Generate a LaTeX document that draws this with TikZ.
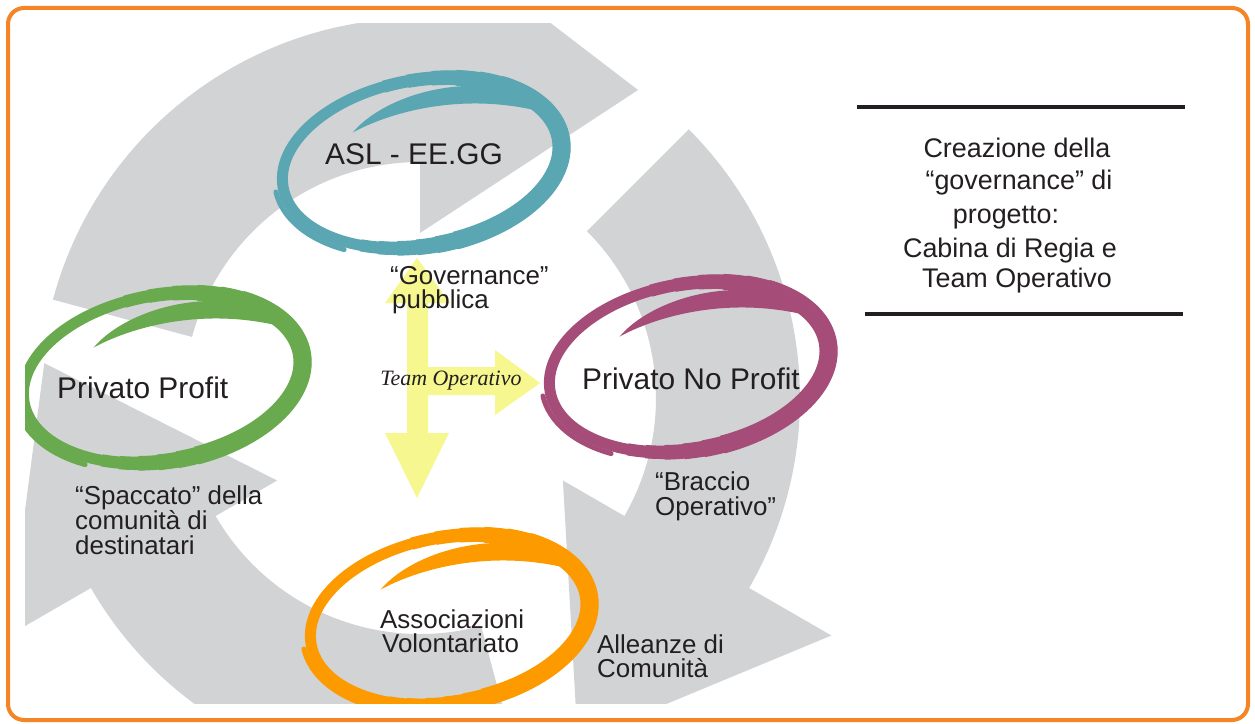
\documentclass[tikz,border=0pt]{standalone}
\usepackage{fontspec}
\setmainfont{Liberation Sans}
\newfontfamily\teamfont{Liberation Serif}
\definecolor{arrowgray}{HTML}{D1D3D4}
\definecolor{frameorange}{HTML}{F58426}
\definecolor{tealc}{HTML}{5AA6B2}
\definecolor{greenc}{HTML}{6AAA4F}
\definecolor{purplec}{HTML}{A54D78}
\definecolor{orangec}{HTML}{FD9A00}
\definecolor{yellowc}{HTML}{F7F78F}
\definecolor{ink}{HTML}{231F20}
\newcommand\scribblemark[3]{%
\begin{scope}[shift={(#2,#3)}, rotate=10]
 \draw[#1, line width=11bp] (0,0) ellipse [x radius=141, y radius=83];
 \foreach \k in {1,...,6}{
   \pgfmathsetmacro\sa{250+10*\k}
   \pgfmathsetmacro\ea{490-8*\k}
   \pgfmathsetmacro\lw{11+1.2*\k}
   \draw[#1, line width=\lw bp] (\sa:141 and 83) arc[start angle=\sa, end angle=\ea, x radius=141, y radius=83];
 }
 \draw[#1, line width=5bp, line cap=round] (178:149 and 91) arc[start angle=178, end angle=128, x radius=149, y radius=91];
 \fill[#1] (-63,-42) .. controls (-30,-70) and (50,-85) .. (120,-48) -- (126,-30) .. controls (50,-64) and (-25,-55) .. (-63,-42) -- cycle;
\end{scope}}
\begin{document}
\begin{tikzpicture}[x=1bp,y=-1bp,
  lbl/.style={anchor=base west, inner sep=0pt, font=\fontsize{26}{22}\selectfont, text=ink},
  ttl/.style={anchor=base west, inner sep=0pt, font=\fontsize{30}{30}\selectfont, text=ink},
  rblk/.style={anchor=base, inner sep=0pt, font=\fontsize{27}{30}\selectfont, text=ink},
  teamlbl/.style={anchor=base, inner sep=0pt, font=\teamfont\itshape\fontsize{22}{22}\selectfont, text=ink}]
\useasboundingbox (0,0) rectangle (1255,724);
\fill[white] (0,0) rectangle (1255,724);
\begin{scope}
\clip (25,24) rectangle (845,703);
% grey circular arrows
\begin{scope}[shift={(420,398)}]
\fill[arrowgray] (195:236) arc[start angle=195, end angle=270, radius=236] -- (270:165) -- (218,-308) -- (270:475) -- (270:380) arc[start angle=270, end angle=195, radius=380] -- cycle;
\fill[arrowgray] (315:236) arc[start angle=315, end angle=390, radius=236] -- (30:165) -- (157.7,342.8) -- (30:475) -- (30:380) arc[start angle=390, end angle=315, radius=380] -- cycle;
\fill[arrowgray] (75:236) arc[start angle=75, end angle=150, radius=236] -- (150:165) -- (-375.7,-34.8) -- (150:475) -- (150:380) arc[start angle=150, end angle=75, radius=380] -- cycle;
\end{scope}
% yellow arrows
\fill[yellowc] (407,303) -- (385,303) -- (417,258) -- (450,303) -- (428,303) -- (428,367) -- (495,367) -- (495,350) -- (540,383) -- (495,415) -- (495,395) -- (428,395) -- (428,433) -- (449,433) -- (417,498) -- (385,433) -- (407,433) -- cycle;
% scribbled ellipses
\scribblemark{tealc}{422}{163}
\scribblemark{greenc}{163}{378}
\scribblemark{purplec}{689}{367}
\scribblemark{orangec}{450}{620}
\end{scope}
% labels
\node[ttl] (asl) at (325,165) {ASL - EE.GG};
\node[lbl] (gov1) at (390,284) {“Governance”};
\node[lbl] (gov2) at (392,308) {pubblica};
\node[ttl] (pp) at (57,398) {Privato Profit};
\node[ttl] (pnp) at (582,389) {Privato No Profit};
\node[teamlbl] (team) at (451,385) {Team Operativo};
\node[lbl] (sp1) at (75,504) {“Spaccato” della};
\node[lbl] (sp2) at (75,529) {comunità di};
\node[lbl] (sp3) at (75,554) {destinatari};
\node[lbl] (br1) at (655,490) {“Braccio};
\node[lbl] (br2) at (655,515) {Operativo”};
\node[lbl] (as1) at (380,628) {Associazioni};
\node[lbl] (as2) at (382,652) {Volontariato};
\node[lbl] (al1) at (597,653) {Alleanze di};
\node[lbl] (al2) at (597,677) {Comunità};
% right block
\draw[ink, line width=4.5bp] (857,107) -- (1185,107);
\draw[ink, line width=4.5bp] (865,314) -- (1183,314);
\node[rblk] (r1) at (1017,158) {Creazione della};
\node[rblk] (r2) at (1019,190) {“governance” di};
\node[rblk] (r3) at (1006,224) {progetto:};
\node[rblk] (r4) at (1010,257) {Cabina di Regia e};
\node[rblk] (r5) at (1017,287) {Team Operativo};
% frame
\draw[frameorange, line width=4bp, rounded corners=16bp] (8,8) rectangle (1248,720);
\end{tikzpicture}
\end{document}
